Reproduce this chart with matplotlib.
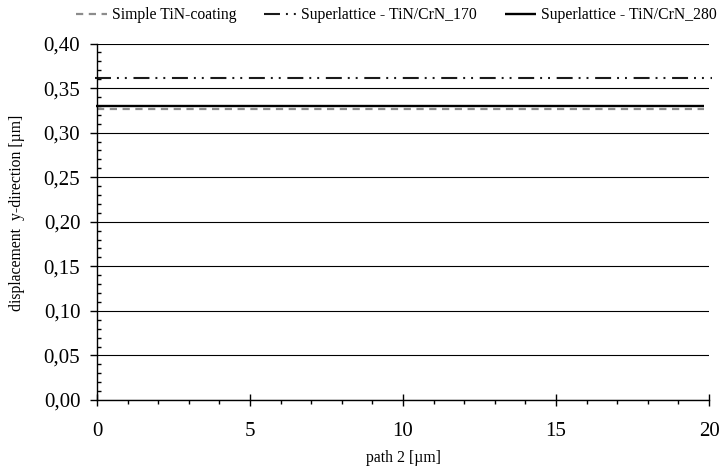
import matplotlib
matplotlib.use("Agg")
import matplotlib.pyplot as plt
from matplotlib.ticker import MultipleLocator, FuncFormatter

plt.rcParams['font.family'] = ['Liberation Serif', 'DejaVu Serif']
plt.rcParams['lines.scale_dashes'] = False

# data
series_names = ["Simple TiN-coating", "Superlattice - TiN/CrN_170", "Superlattice - TiN/CrN_280"]
path_tin = [0.0, 19.85]
disp_tin = [0.326, 0.326]
path_170 = [-0.05, 20.1]
disp_170 = [0.361, 0.361]
path_280 = [-0.03, 19.85]
disp_280 = [0.330, 0.330]
xticks = [0, 5, 10, 15, 20]
yticks = [0.00, 0.05, 0.10, 0.15, 0.20, 0.25, 0.30, 0.35, 0.40]

fig = plt.figure(figsize=(7.2, 4.66), dpi=100)
ax = fig.add_axes([97/720, 1-400/466, (709-97)/720, (400-43.5)/466])

ax.plot(path_tin, disp_tin, color='#8c8c8c', lw=1.6, dashes=(5.2, 4.0),
        label=series_names[0], clip_on=False, solid_capstyle='butt', dash_capstyle='butt')
ax.plot(path_170, disp_170, color='#1a1a1a', lw=1.5, dashes=(11.5, 4.3, 1.4, 4.3, 1.4, 4.8),
        label=series_names[1], clip_on=False, dash_capstyle='butt')
ax.plot(path_280, disp_280, color='black', lw=1.7, label=series_names[2],
        clip_on=False, solid_capstyle='butt')

ax.set_xlim(0, 20)
ax.set_ylim(0, 0.40)
ax.set_xticks(xticks)
ax.set_yticks(yticks)
ax.xaxis.set_minor_locator(MultipleLocator(1))
ax.yaxis.set_minor_locator(MultipleLocator(0.01))
ax.yaxis.set_major_formatter(FuncFormatter(lambda v, p: f"{v:.2f}".replace('.', ',')))

ax.grid(axis='y', which='major', color='black', lw=0.8)
ax.set_axisbelow(True)
for s in ['top', 'right']:
    ax.spines[s].set_visible(False)
for s in ['left', 'bottom']:
    ax.spines[s].set_linewidth(1.0)

ax.tick_params(axis='x', which='major', direction='inout', length=8, width=1.0, labelsize=15, pad=12)
ax.tick_params(axis='x', which='minor', direction='out', length=3, width=1.0)
ax.tick_params(axis='y', which='major', direction='out', length=5, width=1.0, labelsize=15, pad=7)
ax.tick_params(axis='y', which='minor', direction='in', length=3, width=1.0)

fig.text(403/720, 1-458/466, "path 2 [µm]", ha='center', va='center', fontsize=11.3)
fig.text(17/720, 1-213/466, "displacement  y-direction [µm]", ha='center', va='center',
         rotation=90, fontsize=11.3)

fig.legend(loc='center', bbox_to_anchor=(396/720, 1-15/466), ncol=3, frameon=False,
           handlelength=2.0, handletextpad=0.3, columnspacing=1.8, fontsize=11.3)

fig.savefig("out.png", dpi=100)
